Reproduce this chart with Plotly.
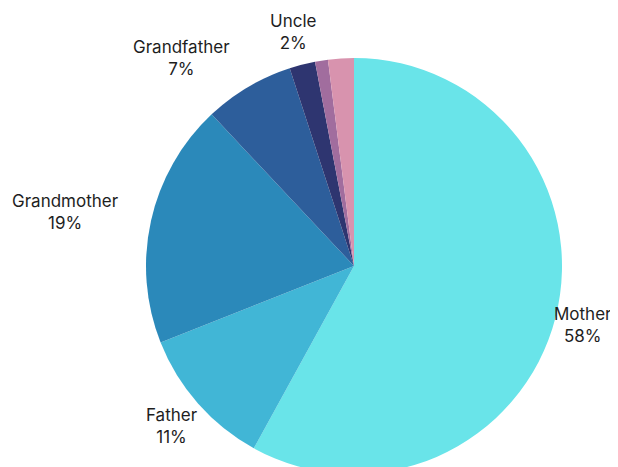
import math
import plotly.graph_objects as go

labels = ["Mother", "Father", "Grandmother", "Grandfather", "Uncle", "Aunt", "Other"]
values = [58, 11, 19, 7, 2, 1, 2]
colors = ["#69E4E9", "#41B6D6", "#2B89BA", "#2D5E9B", "#2E3570", "#A16D9E", "#D893AE"]
show_label = [True, True, True, True, True, False, False]

# layout / style constants (figure pixels)
W, H = 610, 470
cx, cy, r = 346, 258, 208
label_dist = [236, 242, 293, 270, 242, 0, 0]
label_nudge_deg = [0, 0, -2, -9, 0, 0, 0]

fig = go.Figure(go.Pie(
    labels=labels,
    values=values,
    textinfo="none",
    sort=False,
    direction="clockwise",
    rotation=0,
    marker=dict(colors=colors, line=dict(width=0)),
    showlegend=False,
    domain=dict(x=[(cx - r) / W, (cx + r) / W], y=[(H - cy - r) / H, (H - cy + r) / H]),
))

total = sum(values)
cum = 0
for lab, v, show, d, nd in zip(labels, values, show_label, label_dist, label_nudge_deg):
    mid = (cum + v / 2) / total * 360 + nd
    cum += v
    if not show:
        continue
    a = math.radians(mid)
    px = cx + d * math.sin(a)
    py = cy - d * math.cos(a)
    fig.add_annotation(
        x=px / W, y=(H - py) / H, xref="paper", yref="paper",
        text=f"{lab}<br>{round(v / total * 100)}%",
        showarrow=False, xanchor="center", yanchor="middle", align="center",
        font=dict(family="Inter", size=17, color="#1E1E1E"),
    )

fig.update_layout(
    width=W, height=H,
    margin=dict(l=0, r=0, t=0, b=0),
    paper_bgcolor="white",
    plot_bgcolor="white",
)

fig.write_html("out.html")
